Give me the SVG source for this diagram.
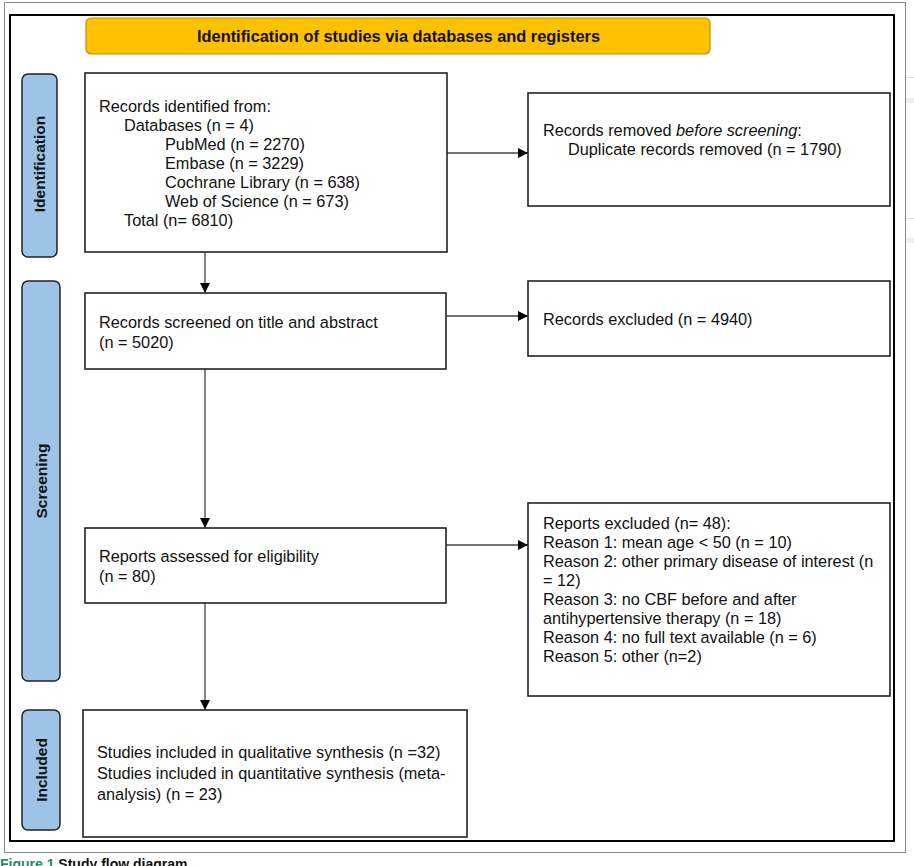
<svg xmlns="http://www.w3.org/2000/svg" width="914" height="866" viewBox="0 0 914 866">
<defs>
<style>
.t{font-family:"Liberation Sans",Arial,sans-serif;font-size:16.3px;fill:#111}
.b{fill:#fff;stroke:#222;stroke-width:1.6}
.side{fill:#9DC3E6;stroke:#222;stroke-width:1.5}
.sl{font-family:"Liberation Sans",Arial,sans-serif;font-size:15.5px;font-weight:bold;fill:#111}
.c{stroke:#444;stroke-width:1.3;fill:none}
</style>
<marker id="ah" viewBox="0 0 10 10" refX="10" refY="5" markerWidth="10" markerHeight="10" markerUnits="userSpaceOnUse" orient="auto">
<path d="M0,0 L10,5 L0,10 z" fill="#000"/>
</marker>
</defs>
<rect x="0" y="0" width="914" height="866" fill="#fff"/>
<g id="page-artifacts">
<rect x="906" y="77" width="8" height="1" fill="#ddd"/>
<rect x="906" y="98" width="8" height="5" fill="#eee"/>
<rect x="906" y="218" width="8" height="1" fill="#ddd"/>
<rect x="906" y="238" width="8" height="5" fill="#eee"/>
</g>
<g id="frames">
<rect x="4.5" y="2.5" width="901" height="850" fill="none" stroke="#888" stroke-width="1"/>
<rect x="10" y="15" width="884" height="826" fill="none" stroke="#000" stroke-width="2"/>
</g>
<g id="banner">
<rect x="86" y="18" width="624" height="36" rx="5" fill="#FFC000" stroke="#C49000" stroke-width="1.2"/>
<text x="197" y="42" textLength="403" lengthAdjust="spacingAndGlyphs" style="font-family:'Liberation Sans',Arial,sans-serif;font-size:16px;font-weight:bold;fill:#111">Identification of studies via databases and registers</text>
</g>
<g id="side-identification">
<rect class="side" x="22" y="74" width="35" height="183" rx="6"/>
<text class="sl" transform="translate(45,164) rotate(-90)" text-anchor="middle">Identification</text>
</g>
<g id="side-screening">
<rect class="side" x="22" y="281" width="38" height="400" rx="6"/>
<text class="sl" transform="translate(46.5,481) rotate(-90)" text-anchor="middle">Screening</text>
</g>
<g id="side-included">
<rect class="side" x="22" y="710" width="38" height="120" rx="6"/>
<text class="sl" transform="translate(46.5,770) rotate(-90)" text-anchor="middle">Included</text>
</g>
<g id="connectors">
<line class="c" x1="447" y1="153" x2="528" y2="153" marker-end="url(#ah)"/>
<line class="c" x1="205" y1="252" x2="205" y2="293" marker-end="url(#ah)"/>
<line class="c" x1="446" y1="316" x2="528" y2="316" marker-end="url(#ah)"/>
<line class="c" x1="205" y1="369" x2="205" y2="528" marker-end="url(#ah)"/>
<line class="c" x1="446" y1="545" x2="528" y2="545" marker-end="url(#ah)"/>
<line class="c" x1="205" y1="603" x2="205" y2="710" marker-end="url(#ah)"/>
</g>
<g id="records-identified">
<rect class="b" x="85" y="73" width="362" height="179"/>
<text class="t" x="99" y="112">Records identified from:</text>
<text class="t" x="124" y="131">Databases (n = 4)</text>
<text class="t" x="165" y="150">PubMed (n = 2270)</text>
<text class="t" x="165" y="169">Embase (n = 3229)</text>
<text class="t" x="165" y="188">Cochrane Library (n = 638)</text>
<text class="t" x="165" y="207">Web of Science (n = 673)</text>
<text class="t" x="124" y="226">Total (n= 6810)</text>
</g>
<g id="records-removed">
<rect class="b" x="528" y="93" width="362" height="113"/>
<text class="t" x="543" y="136">Records removed <tspan font-style="italic">before screening</tspan>:</text>
<text class="t" x="568" y="155">Duplicate records removed (n = 1790)</text>
</g>
<g id="records-screened">
<rect class="b" x="85" y="293" width="361" height="76"/>
<text class="t" x="99" y="328">Records screened on title and abstract</text>
<text class="t" x="99" y="348">(n = 5020)</text>
</g>
<g id="records-excluded">
<rect class="b" x="528" y="281" width="362" height="75"/>
<text class="t" x="543" y="325">Records excluded (n = 4940)</text>
</g>
<g id="reports-assessed">
<rect class="b" x="85" y="528" width="361" height="75"/>
<text class="t" x="99" y="562">Reports assessed for eligibility</text>
<text class="t" x="99" y="582">(n = 80)</text>
</g>
<g id="reports-excluded">
<rect class="b" x="528" y="503" width="362" height="193"/>
<text class="t" x="543" y="529">Reports excluded (n= 48):</text>
<text class="t" x="543" y="548">Reason 1: mean age &lt; 50 (n = 10)</text>
<text class="t" x="543" y="567">Reason 2: other primary disease of interest (n</text>
<text class="t" x="543" y="586">= 12)</text>
<text class="t" x="543" y="605">Reason 3: no CBF before and after</text>
<text class="t" x="543" y="624">antihypertensive therapy (n = 18)</text>
<text class="t" x="543" y="643">Reason 4: no full text available (n = 6)</text>
<text class="t" x="543" y="662">Reason 5: other (n=2)</text>
</g>
<g id="studies-included">
<rect class="b" x="83" y="710" width="384" height="127"/>
<text class="t" x="97" y="758">Studies included in qualitative synthesis (n =32)</text>
<text class="t" x="97" y="779">Studies included in quantitative synthesis (meta-</text>
<text class="t" x="97" y="800">analysis) (n = 23)</text>
</g>
<g id="caption">
<text x="0" y="869" style="font-family:'Liberation Sans',Arial,sans-serif;font-size:14px;font-weight:bold"><tspan fill="#1F8A70">Figure 1</tspan><tspan fill="#111"> Study flow diagram</tspan></text>
</g>
</svg>
